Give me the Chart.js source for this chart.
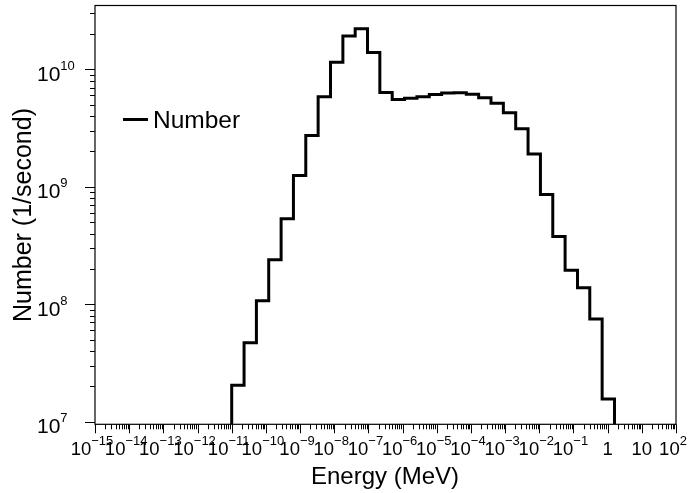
<!DOCTYPE html>
<html>
<head>
<meta charset="utf-8">
<title>Energy spectrum</title>
<script src="https://cdn.jsdelivr.net/npm/chart.js@4.4.1/dist/chart.umd.min.js"></script>
<style>
  html, body { margin: 0; padding: 0; background: #fff; }
  #wrap { width: 691px; height: 493px; position: relative; }
</style>
</head>
<body>
<div id="wrap"><canvas id="spectrumChart"></canvas></div>
<script>
// bin edges in MeV (31 log bins) and number per second in each bin
var EDGES = [
	1.00e-11, 2.30e-11, 5.28e-11, 1.21e-10, 2.79e-10, 6.40e-10, 1.47e-9, 3.38e-9,
	7.77e-9, 1.79e-8, 4.10e-8, 9.42e-8, 2.16e-7, 4.97e-7, 1.14e-6, 2.63e-6,
	6.04e-6, 1.39e-5, 3.19e-5, 7.32e-5, 1.68e-4, 3.86e-4, 8.88e-4, 2.04e-3,
	4.69e-3, 1.08e-2, 2.48e-2, 5.69e-2, 0.131, 0.300, 0.690, 1.585
];
var COUNTS = [
	2.04e7, 4.71e7, 1.07e8, 2.39e8, 5.34e8, 1.25e9, 2.74e9, 5.85e9,
	1.15e10, 1.92e10, 2.22e10, 1.39e10, 6.37e9, 5.55e9, 5.68e9, 5.86e9,
	6.12e9, 6.28e9, 6.31e9, 6.15e9, 5.74e9, 5.15e9, 4.28e9, 3.12e9,
	1.90e9, 8.60e8, 3.77e8, 1.95e8, 1.38e8, 7.50e7, 1.56e7
];

var X_MIN = 1e-15, X_MAX = 1e2;
var Y_MIN = 9.5e6, Y_MAX = 3.5e10;

var X_TICKS = [1e-15, 1e-14, 1e-13, 1e-12, 1e-11, 1e-10, 1e-9, 1e-8, 1e-7,
	1e-6, 1e-5, 1e-4, 1e-3, 1e-2, 1e-1, 1, 10, 1e2];
var X_TICK_LABELS = ['10^-15', '10^-14', '10^-13', '10^-12', '10^-11', '10^-10',
	'10^-9', '10^-8', '10^-7', '10^-6', '10^-5', '10^-4', '10^-3', '10^-2', '10^-1',
	'1', '10', '10^2'];
var Y_TICKS = [1e7, 1e8, 1e9, 1e10];
var Y_TICK_LABELS = ['10^7', '10^8', '10^9', '10^10'];

var FONT = '"Liberation Sans", Arial, Helvetica, sans-serif';

// histogram outline: rise at the first edge, one step per bin, drop at the last edge
// (each point carries the count of the bin that ends at its x)
function buildSteps(edges, counts) {
	var pts = [{ x: edges[0], y: Y_MIN }];
	for (var i = 0; i < counts.length; i++) {
		pts.push({ x: edges[i + 1], y: counts[i] });
	}
	pts.push({ x: edges[edges.length - 1], y: Y_MIN });
	return pts;
}

// tick values 1..9 x 10^n inside [min, max]
function logTicks(min, max) {
	var out = [];
	var lo = Math.floor(Math.log10(min)), hi = Math.ceil(Math.log10(max));
	for (var d = lo; d <= hi; d++) {
		for (var m = 1; m <= 9; m++) {
			var v = m * Math.pow(10, d);
			if (v >= min * 0.999 && v <= max * 1.001) out.push({ v: v, major: m === 1 });
		}
	}
	return out;
}

// "10^-11" -> base "10" with a raised exponent, minus as a real minus sign
function drawPowerLabel(ctx, text, x, y, baseSize, expSize, rise, align) {
	var parts = text.split('^');
	var base = parts[0];
	var exp = parts.length > 1 ? parts[1].replace('-', '\u2212') : '';
	ctx.font = baseSize + 'px ' + FONT;
	var wb = ctx.measureText(base).width;
	ctx.font = expSize + 'px ' + FONT;
	var we = exp ? ctx.measureText(exp).width : 0;
	var x0 = align === 'left' ? x : x - (wb + we) / 2;
	ctx.textAlign = 'left';
	ctx.textBaseline = 'alphabetic';
	ctx.font = baseSize + 'px ' + FONT;
	ctx.fillText(base, x0, y);
	if (exp) {
		ctx.font = expSize + 'px ' + FONT;
		ctx.fillText(exp, x0 + wb, y - rise);
	}
}

var frameAxes = {
	id: 'frameAxes',
	afterDraw: function(chart) {
		var ctx = chart.ctx;
		var area = chart.chartArea;
		var xs = chart.scales.x, ys = chart.scales.y;
		ctx.save();
		ctx.fillStyle = '#000';
		ctx.strokeStyle = '#000';

		// frame
		ctx.lineWidth = 1.2;
		ctx.strokeRect(area.left, area.top, area.right - area.left, area.bottom - area.top);

		// x ticks, pointing down
		ctx.lineWidth = 1;
		logTicks(X_MIN, X_MAX).forEach(function(t) {
			var px = Math.round(xs.getPixelForValue(t.v)) + 0.5;
			ctx.beginPath();
			ctx.moveTo(px, area.bottom);
			ctx.lineTo(px, area.bottom + (t.major ? 9 : 5));
			ctx.stroke();
		});
		// y ticks, pointing left
		logTicks(Y_MIN, Y_MAX).forEach(function(t) {
			var py = Math.round(ys.getPixelForValue(t.v)) + 0.5;
			ctx.beginPath();
			ctx.moveTo(area.left, py);
			ctx.lineTo(area.left - (t.major ? 10 : 5), py);
			ctx.stroke();
		});

		// tick labels
		X_TICKS.forEach(function(v, i) {
			var px = xs.getPixelForValue(v);
			var lab = X_TICK_LABELS[i];
			drawPowerLabel(ctx, lab, px - (lab.indexOf('^') >= 0 ? 3 : 0), area.bottom + 31, 18.5, 13, 10, 'center');
		});
		Y_TICKS.forEach(function(v, i) {
			var py = ys.getPixelForValue(v);
			drawPowerLabel(ctx, Y_TICK_LABELS[i], 37, py + 11.5, 21, 13, 11, 'left');
		});

		// axis titles
		ctx.font = '24px ' + FONT;
		ctx.textAlign = 'center';
		ctx.textBaseline = 'alphabetic';
		ctx.fillText('Energy (MeV)', 385, 484);
		ctx.save();
		ctx.font = '25px ' + FONT;
		ctx.translate(31, 215);
		ctx.rotate(-Math.PI / 2);
		ctx.fillText('Number (1/second)', 0, 0);
		ctx.restore();

		// legend entry
		var ds = chart.data.datasets[0];
		ctx.strokeStyle = ds.borderColor;
		ctx.lineWidth = 3;
		ctx.beginPath();
		ctx.moveTo(123, 119.5);
		ctx.lineTo(148, 119.5);
		ctx.stroke();
		ctx.font = '24.5px ' + FONT;
		ctx.textAlign = 'left';
		ctx.fillText(ds.label, 153, 128);
		ctx.restore();
	}
};

function buildChart() {
	var canvas = document.getElementById('spectrumChart').getContext('2d');
	return new Chart(canvas, {
		type: 'line',
		data: {
			datasets: [{
				label: 'Number',
				data: buildSteps(EDGES, COUNTS),
				stepped: 'after',
				borderColor: '#000',
				borderWidth: 3,
				borderJoinStyle: 'miter',
				pointRadius: 0,
				fill: false
			}]
		},
		options: {
			responsive: true,
			maintainAspectRatio: false,
			animation: false,
			layout: {
				padding: { left: 95, right: 15, top: 5.5, bottom: 68.7 }
			},
			scales: {
				x: { type: 'logarithmic', min: X_MIN, max: X_MAX, display: false },
				y: { type: 'logarithmic', min: Y_MIN, max: Y_MAX, display: false }
			},
			plugins: {
				legend: { display: false },
				tooltip: { enabled: false }
			}
		},
		plugins: [frameAxes]
	});
}

buildChart();
</script>
</body>
</html>
